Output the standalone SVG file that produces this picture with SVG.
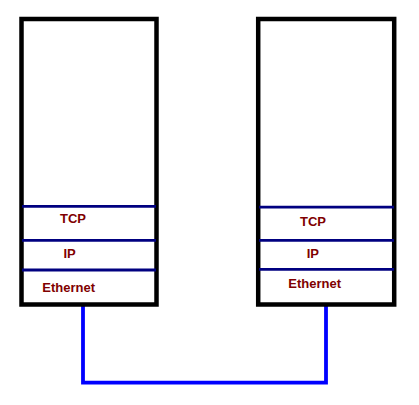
<svg xmlns="http://www.w3.org/2000/svg" width="419" height="405" viewBox="0 0 419 405">
<style>
.box{fill:#fff;stroke:#000;stroke-width:4.5}
.div{stroke:#000080;stroke-width:2.8}
.lbl{font-family:"Liberation Sans",Arial,sans-serif;font-weight:bold;font-size:13px;fill:#800000}
.wire{fill:none;stroke:#0000ff;stroke-width:3.8}
</style>
<rect width="419" height="405" fill="#fff"/>
<g id="connectors">
<path class="wire" d="M83,304 V382.7 H326 V304"/>
</g>
<g id="host-left">
<rect class="box" x="21.5" y="19" width="135" height="285.5"/>
<line class="div" x1="22" y1="206.3" x2="156" y2="206.3"/>
<line class="div" x1="22" y1="240.3" x2="156" y2="240.3"/>
<line class="div" x1="22" y1="270" x2="156" y2="270"/>
<text class="lbl" x="60" y="223">TCP</text>
<text class="lbl" x="63.5" y="257.5">IP</text>
<text class="lbl" x="42.3" y="292">Ethernet</text>
</g>
<g id="host-right">
<rect class="box" x="258.2" y="19" width="136" height="285.5"/>
<line class="div" x1="259" y1="207.2" x2="394" y2="207.2"/>
<line class="div" x1="259" y1="240.3" x2="394" y2="240.3"/>
<line class="div" x1="259" y1="269.3" x2="394" y2="269.3"/>
<text class="lbl" x="300" y="226">TCP</text>
<text class="lbl" x="306.7" y="257.5">IP</text>
<text class="lbl" x="288.3" y="287.5">Ethernet</text>
</g>
</svg>
